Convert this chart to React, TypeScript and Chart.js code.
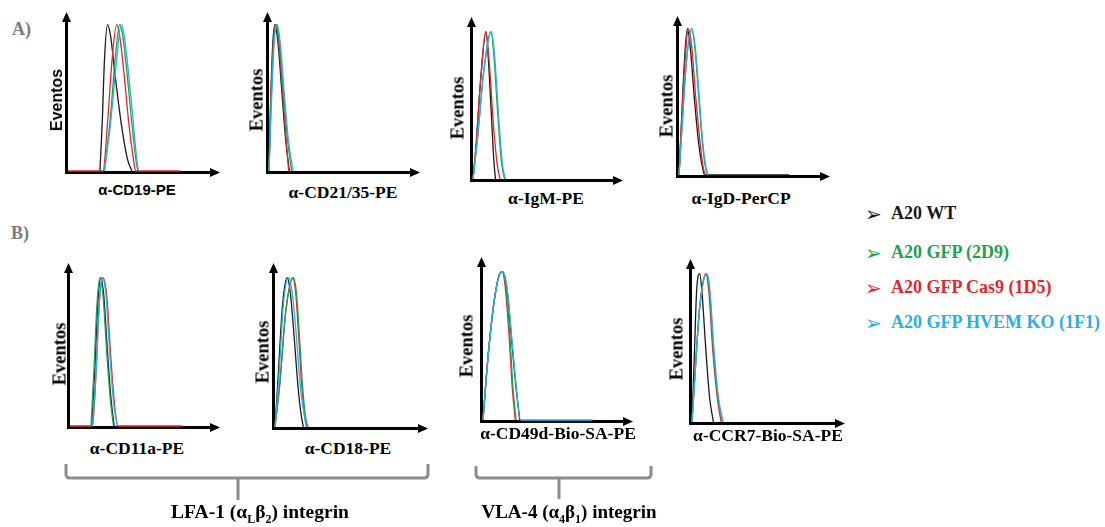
import React, { useEffect, useRef } from "react";
import { Chart, registerables } from "chart.js";
Chart.register(...registerables);

type Pt = [number, number];

// Series: A20 WT, A20 GFP (2D9), A20 GFP Cas9 (1D5), A20 GFP HVEM KO (1F1)
const SERIES_NAMES = ["A20 WT", "A20 GFP (2D9)", "A20 GFP Cas9 (1D5)", "A20 GFP HVEM KO (1F1)"];
const SERIES_COLORS = ["#1a1a1a", "#22a04e", "#e3262a", "#2aaee4"];
const SERIES_ORDER = [4, 2, 3, 1];

// x: fluorescence (% of axis), y: events (% of axis)
const cd19Wt: Pt[] = [[21, 0], [22.5, 30], [24, 70], [26, 92], [28, 85], [31, 60], [35, 30], [39, 8], [42, 0]];
const cd19Gfp: Pt[] = [[24, 0], [28, 35], [31, 70], [34, 92], [36, 85], [39, 60], [42, 30], [45, 5], [46, 0]];
const cd19Cas9: Pt[] = [[0, 0], [23, 0], [26, 30], [29, 70], [32, 92], [34, 85], [37, 60], [40, 30], [43, 8], [44.5, 0], [74, 0]];
const cd19Ko: Pt[] = [[24, 0], [28, 30], [32, 70], [35, 92], [37, 85], [40, 60], [43, 30], [45.5, 5], [46.5, 0]];

const cd21Wt: Pt[] = [[0, 0], [1, 40], [2.5, 80], [4, 92], [6, 80], [8.5, 50], [11, 20], [13.5, 0]];
const cd21Gfp: Pt[] = [[0, 0], [1.2, 40], [3.2, 82], [5, 92], [7, 80], [9.5, 50], [12.5, 18], [15, 0]];
const cd21Cas9: Pt[] = [[0, 0], [1, 40], [3, 82], [4.6, 92], [6.5, 80], [9, 50], [11.5, 18], [13, 0]];
const cd21Ko: Pt[] = [[0, 0], [1.5, 40], [3.5, 82], [5.5, 92], [7.5, 80], [10, 50], [13, 18], [16, 0]];

const igmWt: Pt[] = [[0, 0], [2, 20], [5, 60], [8.7, 91], [10.5, 70], [12.5, 35], [14, 10], [15, 0]];
const igmGfp: Pt[] = [[0, 0], [3, 25], [7, 65], [12, 91], [14, 75], [16.5, 40], [19, 10], [21, 0]];
const igmCas9: Pt[] = [[0, 0], [2, 20], [5, 60], [8.5, 91], [11, 70], [13.5, 35], [16, 10], [18, 0]];
const igmKo: Pt[] = [[0, 0], [3, 25], [7, 65], [12.3, 91], [14.5, 75], [17, 40], [19.5, 10], [21.5, 0]];

const igdWt: Pt[] = [[0, 0], [1.5, 30], [3.5, 70], [5.5, 92], [7.5, 80], [10, 50], [13, 20], [15.5, 5], [17, 0], [73, 0]];
const igdGfp: Pt[] = [[0, 0], [2, 30], [5, 72], [8.3, 92], [10.5, 80], [13, 50], [15.5, 20], [17.5, 5], [19, 0]];
const igdCas9: Pt[] = [[0, 0], [1.5, 30], [4, 72], [6.2, 92], [8.5, 80], [11, 50], [14, 20], [16, 5], [17.5, 0]];
const igdKo: Pt[] = [[0, 0], [2, 30], [5, 72], [8.6, 92], [10.8, 80], [13.3, 50], [15.8, 20], [17.8, 5], [19.3, 0]];

const cd11aWt: Pt[] = [[14.5, 0], [16.5, 35], [18.5, 75], [20.5, 91], [22.5, 80], [25, 45], [27.5, 15], [29.5, 0]];
const cd11aGfp: Pt[] = [[14, 0], [16, 35], [18, 75], [20, 91], [22, 80], [24.5, 45], [27, 15], [29, 0]];
const cd11aCas9: Pt[] = [[0, 0], [15, 0], [17.5, 35], [19.5, 75], [22, 91], [24.5, 80], [27, 45], [29.5, 15], [32, 0], [75, 0]];
const cd11aKo: Pt[] = [[15, 0], [17.5, 35], [19.5, 75], [21.5, 91], [24, 80], [26.5, 45], [29, 15], [31.5, 0]];

const cd18Wt: Pt[] = [[0, 0], [2, 30], [5, 75], [8, 91], [10, 82], [12.5, 55], [15, 25], [17, 8], [18.5, 0]];
const cd18Gfp: Pt[] = [[0, 0], [3, 25], [7, 70], [12, 91], [14, 82], [16, 55], [18, 25], [20, 6], [21.5, 0]];
const cd18Cas9: Pt[] = [[0, 0], [3, 25], [7, 70], [11.5, 91], [13.5, 82], [15.5, 55], [17.5, 25], [19.5, 6], [21, 0]];
const cd18Ko: Pt[] = [[0, 0], [2.5, 30], [5.5, 75], [9, 91], [11.5, 80], [14, 55], [16.5, 25], [19, 8], [20.5, 0]];

const cd49dWt: Pt[] = [[0, 0], [3, 35], [7, 70], [10.5, 88], [13, 91], [16, 80], [19, 50], [22, 20], [24.5, 0]];
const cd49dGfp: Pt[] = [[0, 0], [3, 35], [7, 70], [10.5, 88], [13, 91], [15.5, 80], [18, 50], [20, 20], [22, 0]];
const cd49dCas9: Pt[] = [[0, 0], [3, 35], [7, 70], [10.5, 88], [12.7, 91], [15, 80], [17.5, 50], [19.5, 20], [21.5, 0]];
const cd49dKo: Pt[] = [[0, 0], [3, 35], [7, 70], [10.5, 88], [13.2, 91], [16.2, 80], [19.2, 50], [22.2, 20], [25, 0], [73, 0]];

const ccr7Wt: Pt[] = [[0, 0], [1.5, 40], [3, 80], [5, 91], [6.5, 80], [9, 45], [11.5, 15], [14, 0]];
const ccr7Gfp: Pt[] = [[0, 0], [2, 30], [5, 70], [9.5, 91], [11.5, 80], [14, 45], [17, 15], [20, 0]];
const ccr7Cas9: Pt[] = [[0, 0], [2, 30], [5, 70], [9, 91], [11, 80], [13.5, 45], [16.5, 15], [19, 0]];
const ccr7Ko: Pt[] = [[0, 0], [2, 30], [5, 70], [9.8, 91], [11.8, 80], [14.3, 45], [17.3, 15], [20.3, 0]];

const X_LABELS = ["α-CD19-PE", "α-CD21/35-PE", "α-IgM-PE", "α-IgD-PerCP", "α-CD11a-PE", "α-CD18-PE", "α-CD49d-Bio-SA-PE", "α-CCR7-Bio-SA-PE"];
const Y_LABEL = "Eventos";

const PANEL_DATA: Pt[][][] = [
  [cd19Wt, cd19Gfp, cd19Cas9, cd19Ko],
  [cd21Wt, cd21Gfp, cd21Cas9, cd21Ko],
  [igmWt, igmGfp, igmCas9, igmKo],
  [igdWt, igdGfp, igdCas9, igdKo],
  [cd11aWt, cd11aGfp, cd11aCas9, cd11aKo],
  [cd18Wt, cd18Gfp, cd18Cas9, cd18Ko],
  [cd49dWt, cd49dGfp, cd49dCas9, cd49dKo],
  [ccr7Wt, ccr7Gfp, ccr7Cas9, ccr7Ko],
];

// layout (pixels): axis box + label positions
const BOXES = [
  { x0: 68, x1: 220, yt: 12, yb: 171, yl: [57, 100], xl: [137, 189], sans: true },
  { x0: 269, x1: 420, yt: 12, yb: 171, yl: [257, 100], xl: [343, 192] },
  { x0: 473, x1: 623, yt: 17, yb: 179, yl: [458, 108], xl: [546, 198] },
  { x0: 679, x1: 830, yt: 16, yb: 175, yl: [667, 106], xl: [741, 198] },
  { x0: 70, x1: 220, yt: 263, yb: 426, yl: [60, 354], xl: [137, 448] },
  { x0: 275, x1: 428, yt: 263, yb: 427, yl: [263, 352], xl: [348, 448] },
  { x0: 483, x1: 633, yt: 257, yb: 420, yl: [467, 346], xl: [558, 433] },
  { x0: 692, x1: 845, yt: 259, yb: 422, yl: [677, 349], xl: [768, 435] },
];

const SERIF = '"Liberation Serif", "Times New Roman", serif';
const SANS = '"Liberation Sans", Arial, sans-serif';
const PAD = 7;

const axisArrows = {
  id: "axisArrows",
  beforeDatasetsDraw(chart: any) {
    const { ctx, chartArea } = chart;
    const { left, right, top, bottom } = chartArea;
    const ax = left - 1.5;
    const ay = bottom + 1.5;
    ctx.save();
    ctx.strokeStyle = "#000";
    ctx.fillStyle = "#000";
    ctx.lineWidth = 3;
    ctx.beginPath();
    ctx.moveTo(ax, top + 8);
    ctx.lineTo(ax, ay);
    ctx.lineTo(right - 8, ay);
    ctx.stroke();
    ctx.beginPath();
    ctx.moveTo(ax, top);
    ctx.lineTo(ax - 4.5, top + 10);
    ctx.lineTo(ax + 4.5, top + 10);
    ctx.closePath();
    ctx.fill();
    ctx.beginPath();
    ctx.moveTo(right, ay);
    ctx.lineTo(right - 10, ay - 4.5);
    ctx.lineTo(right - 10, ay + 4.5);
    ctx.closePath();
    ctx.fill();
    ctx.restore();
  },
};

function Histo({ idx }: { idx: number }) {
  const ref = useRef<HTMLCanvasElement>(null);
  const box = BOXES[idx];
  useEffect(() => {
    const series = PANEL_DATA[idx];
    const chart = new Chart(ref.current as HTMLCanvasElement, {
      type: "line",
      data: {
        datasets: series.map((pts, i) => ({
          label: SERIES_NAMES[i],
          data: pts.map(([x, y]) => ({ x, y })),
          borderColor: SERIES_COLORS[i],
          borderWidth: 1.3,
          pointRadius: 0,
          fill: false,
          order: SERIES_ORDER[i],
          cubicInterpolationMode: "monotone" as const,
          clip: 6,
        })),
      },
      options: {
        animation: false,
        responsive: false,
        devicePixelRatio: 1,
        events: [],
        layout: { padding: PAD },
        plugins: { legend: { display: false }, tooltip: { enabled: false } },
        scales: {
          x: { type: "linear", min: 0, max: 100, display: false },
          y: { type: "linear", min: 0, max: 100, display: false },
        },
      },
      plugins: [axisArrows],
    });
    return () => chart.destroy();
  }, [idx]);
  const font = box.sans ? SANS : SERIF;
  return (
    <>
      <canvas
        ref={ref}
        width={box.x1 - box.x0 + 2 * PAD}
        height={box.yb - box.yt + 2 * PAD}
        style={{ position: "absolute", left: box.x0 - PAD, top: box.yt - PAD }}
      />
      <div
        style={{
          position: "absolute",
          left: box.yl[0],
          top: box.yl[1],
          transform: "translate(-50%, -50%) rotate(-90deg)",
          font: `bold ${box.sans ? 16 : 18.5}px ${font}`,
          whiteSpace: "nowrap",
          color: "#000",
        }}
      >
        {Y_LABEL}
      </div>
      <div
        style={{
          position: "absolute",
          left: box.xl[0],
          top: box.xl[1],
          transform: "translate(-50%, -50%)",
          font: `bold ${box.sans ? 15 : 17.5}px ${font}`,
          whiteSpace: "nowrap",
          color: "#000",
        }}
      >
        {X_LABELS[idx]}
      </div>
    </>
  );
}

const LEGEND_Y = [213, 252, 287, 322];

export default function App() {
  return (
    <div style={{ position: "absolute", left: 0, top: 0, width: 1105, height: 527, background: "#fff", overflow: "hidden" }}>
      <div style={{ position: "absolute", left: 12, top: 19, font: `bold 18px ${SERIF}`, color: "#7a7a7a" }}>A)</div>
      <div style={{ position: "absolute", left: 11, top: 223, font: `bold 18px ${SERIF}`, color: "#7a7a7a" }}>B)</div>
      {BOXES.map((_, i) => (
        <Histo key={i} idx={i} />
      ))}
      {SERIES_NAMES.map((name, i) => (
        <div
          key={name}
          style={{
            position: "absolute",
            left: 865,
            top: LEGEND_Y[i],
            transform: "translateY(-50%)",
            whiteSpace: "nowrap",
            color: SERIES_COLORS[i],
            display: "flex",
            alignItems: "center",
          }}
        >
          <span style={{ font: `20px "DejaVu Sans", sans-serif`, display: "inline-block", width: 26, lineHeight: "20px" }}>➢</span>
          <span style={{ font: `bold 18px ${SERIF}` }}>{name}</span>
        </div>
      ))}
      <svg width={1105} height={527} style={{ position: "absolute", left: 0, top: 0, pointerEvents: "none" }}>
        <g stroke="#8c8c8c" strokeWidth={3} fill="none">
          <path d="M66 464 L66 474 Q66 478 70 478 L424 478 Q428 478 428 474 L428 464" />
          <path d="M238 478 L238 500" />
          <path d="M476 466 L476 474 Q476 478 480 478 L647 478 Q651 478 651 474 L651 466" />
          <path d="M559 478 L559 499" />
        </g>
      </svg>
      <div style={{ position: "absolute", left: 260, top: 514, transform: "translate(-50%, -50%)", font: `bold 19.5px ${SERIF}`, whiteSpace: "nowrap" }}>
        LFA-1 (α<sub style={{ fontSize: 12 }}>L</sub>β<sub style={{ fontSize: 12 }}>2</sub>) integrin
      </div>
      <div style={{ position: "absolute", left: 569, top: 514, transform: "translate(-50%, -50%)", font: `bold 19px ${SERIF}`, whiteSpace: "nowrap" }}>
        VLA-4 (α<sub style={{ fontSize: 12 }}>4</sub>β<sub style={{ fontSize: 12 }}>1</sub>) integrin
      </div>
    </div>
  );
}
